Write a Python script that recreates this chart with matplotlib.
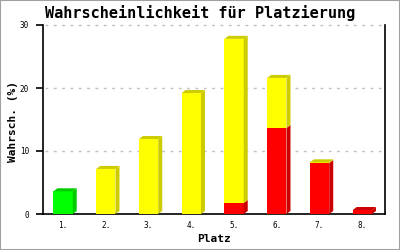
import numpy as np
import matplotlib
matplotlib.use('Agg')
import matplotlib.pyplot as plt
from matplotlib.patches import Polygon, Rectangle

# Data
PLAETZE = ['1.', '2.', '3.', '4.', '5.', '6.', '7.', '8.']
GRUEN = [3.6, 0, 0, 0, 0, 0, 0, 0]
GELB = [0, 7.15, 11.9, 19.2, 26.05, 7.95, 0.1, 0]
ROT = [0, 0, 0, 0, 1.75, 13.65, 8.1, 0.63]
Y_TICKS = [0, 10, 20, 30]

# Style
FONT = 'DejaVu Sans Mono'
WIDTH = 0.45
OFFSET = 0.47
DX, DY = 0.094, 0.48  # 3d depth in data units (~4px right, 3px up)
SERIES = [(GRUEN, '#00ff00', '#00cc00'),
          (ROT, '#ff0000', '#cc0000'),
          (GELB, '#ffff00', '#cccc00')]

fig = plt.figure(figsize=(4, 2.5), dpi=100)
fig.patches.append(Rectangle((0, 0), 1, 1, transform=fig.transFigure,
                             fill=False, edgecolor='#a0a0a0', lw=1.5))
ax = fig.add_axes([43 / 400, 36 / 250, 342 / 400, 189 / 250])

x = np.arange(len(PLAETZE)) + OFFSET
bottom = np.zeros(len(PLAETZE))
tops = {}
for vals, face, side in SERIES:
    vals = np.array(vals, dtype=float)
    for i, (xi, b, v) in enumerate(zip(x, bottom, vals)):
        if v <= 0:
            continue
        x0, x1 = xi - WIDTH / 2, xi + WIDTH / 2
        y0, y1 = b, b + v
        ax.add_patch(Rectangle((x0, y0), WIDTH, v, facecolor=face,
                               edgecolor='none', zorder=3))
        ax.add_patch(Polygon([(x1, y0), (x1 + DX, y0 + DY), (x1 + DX, y1 + DY), (x1, y1)],
                             closed=True, facecolor=side, edgecolor='none', zorder=3))
        tops[i] = (x0, x1, y1, side)
    bottom = bottom + vals

for x0, x1, y1, side in tops.values():
    ax.add_patch(Polygon([(x0, y1), (x0 + DX, y1 + DY), (x1 + DX, y1 + DY), (x1, y1)],
                         closed=True, facecolor=side, edgecolor='none', zorder=3))

ax.set_xlim(0, len(PLAETZE))
ax.set_ylim(0, 30)

for yv in Y_TICKS[1:]:
    ax.axhline(yv, xmin=0.005, xmax=0.995, color='#c0c0c0', lw=1,
               ls=(0, (2, 4)), zorder=1, clip_on=False)

ax.spines['top'].set_visible(False)
for s in ['left', 'bottom', 'right']:
    ax.spines[s].set_color('black')
    ax.spines[s].set_linewidth(1.2)

ax.set_yticks(Y_TICKS)
ax.set_yticklabels([str(t) for t in Y_TICKS], family=FONT, fontsize=5.5)
ax.set_xticks(x)
ax.set_xticklabels(PLAETZE, family=FONT, fontsize=5.5)
ax.tick_params(axis='y', length=5, width=1.2, pad=5)
ax.tick_params(axis='x', length=0, pad=5)

ax.set_ylabel('Wahrsch. (%)', family=FONT, fontweight='bold', fontsize=8)
ax.yaxis.set_label_coords(-0.088, 0.49)
ax.set_xlabel('Platz', family=FONT, fontweight='bold', fontsize=8)
ax.xaxis.set_label_coords(0.5, -0.132)
ax.xaxis.label.set_va('center')
ax.yaxis.label.set_va('center')
fig.text(0.5, 0.948, 'Wahrscheinlichkeit für Platzierung', family=FONT,
         fontsize=11, fontweight='bold', ha='center', va='center')

fig.savefig('out.png', dpi=100)
